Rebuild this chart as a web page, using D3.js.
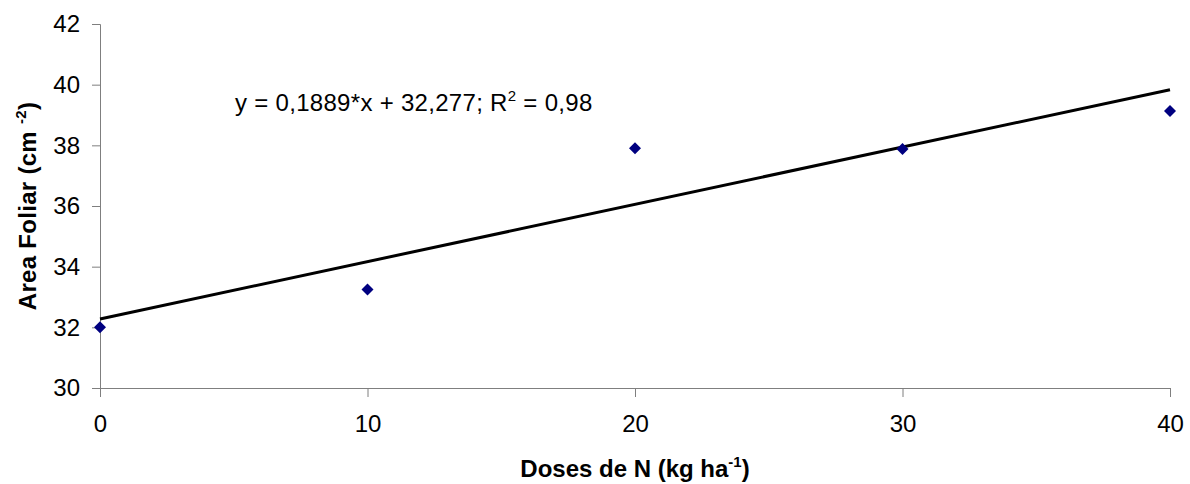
<!DOCTYPE html>
<html>
<head>
<meta charset="utf-8">
<script src="https://cdn.jsdelivr.net/npm/d3@7"></script>
<style>
  body { margin: 0; background: #fff; }
  text { font-family: "Liberation Sans", Arial, sans-serif; }
</style>
</head>
<body>
<div id="chart"></div>
<script>
// data
const doses = [0, 10, 20, 30, 40];
const areaFoliar = [32.0, 33.25, 37.9, 37.88, 39.13];
const xTicks = [0, 10, 20, 30, 40];
const yTicks = [30, 32, 34, 36, 38, 40, 42];
const fitSlope = 0.1889;
const fitIntercept = 32.277;

const W = 1190, H = 484;
const margin = {top: 24, right: 20, bottom: 96, left: 100};
const width = 1170 - margin.left;
const height = 388 - margin.top;

const svg = d3.select("#chart").append("svg")
    .attr("width", W)
    .attr("height", H);

const g = svg.append("g")
    .attr("transform", "translate(" + margin.left + "," + margin.top + ")");

const x = d3.scaleLinear().domain([0, 40]).range([0, width]);
const y = d3.scaleLinear().domain([30, 42]).range([height, 0]);

// y axis
const yAxis = g.append("g")
    .call(d3.axisLeft(y).tickValues(yTicks).tickSize(8).tickPadding(12));
yAxis.select(".domain").attr("stroke", "#7f7f7f");
yAxis.selectAll(".tick line").attr("stroke", "#7f7f7f");
yAxis.selectAll(".tick text").attr("font-size", 24).attr("fill", "#000");

// x axis
const xAxis = g.append("g")
    .attr("transform", "translate(0," + height + ")")
    .call(d3.axisBottom(x).tickValues(xTicks).tickSize(9).tickPadding(18));
xAxis.select(".domain").attr("stroke", "#7f7f7f");
xAxis.selectAll(".tick line").attr("stroke", "#7f7f7f");
xAxis.selectAll(".tick text").attr("font-size", 24).attr("fill", "#000");

// trend line
g.append("line")
    .attr("x1", x(0))
    .attr("y1", y(fitIntercept))
    .attr("x2", x(40))
    .attr("y2", y(fitIntercept + fitSlope * 40))
    .attr("stroke", "#000")
    .attr("stroke-width", 3);

// points
const diamond = d3.symbol().type(d3.symbolDiamond2).size(92);
g.selectAll(".pt")
    .data(doses)
    .enter().append("path")
    .attr("class", "pt")
    .attr("d", diamond)
    .attr("transform", (d, i) => "translate(" + x(d) + "," + y(areaFoliar[i]) + ")")
    .attr("fill", "#000080");

// equation
const eq = svg.append("text")
    .attr("x", 235)
    .attr("y", 111)
    .attr("font-size", 24)
    .attr("letter-spacing", 0.3)
    .attr("fill", "#000");
eq.append("tspan").text("y = 0,1889*x + 32,277; R");
eq.append("tspan").attr("font-size", 15).attr("dy", -10).text("2");
eq.append("tspan").attr("dy", 10).text(" = 0,98");

// x title
const xt = svg.append("text")
    .attr("x", margin.left + width / 2)
    .attr("y", 477)
    .attr("text-anchor", "middle")
    .attr("font-size", 24)
    .attr("font-weight", "bold")
    .attr("fill", "#000");
xt.append("tspan").text("Doses de N (kg ha");
xt.append("tspan").attr("font-size", 15).attr("dy", -10).text("-1");
xt.append("tspan").attr("dy", 10).text(")");

// y title
const yt = svg.append("text")
    .attr("transform", "translate(36," + (margin.top + height / 2) + ") rotate(-90)")
    .attr("text-anchor", "middle")
    .attr("font-size", 24)
    .attr("font-weight", "bold")
    .attr("letter-spacing", 0.3)
    .attr("fill", "#000");
yt.append("tspan").text("Area Foliar (cm ");
yt.append("tspan").attr("font-size", 15).attr("dy", -10).text("-2");
yt.append("tspan").attr("dy", 10).text(")");
</script>
</body>
</html>
